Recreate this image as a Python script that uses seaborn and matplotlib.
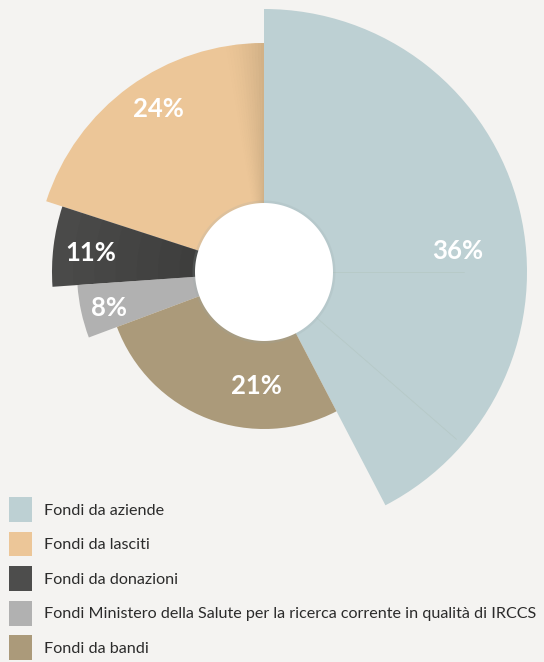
import numpy as np
import matplotlib
matplotlib.use('Agg')
import matplotlib.pyplot as plt
import seaborn as sns
from matplotlib.patches import Patch

# dati
categorie = ['Fondi da aziende', 'Fondi da lasciti', 'Fondi da donazioni',
             'Fondi Ministero della Salute per la ricerca corrente in qualità di IRCCS',
             'Fondi da bandi']
percentuali = [36, 24, 11, 8, 21]
ampiezza_gradi = [152.5, 72, 22, 16.5, 97]   # ampiezza angolare di ogni spicchio
raggio = [263, 229, 212, 187, 157]           # lunghezza di ogni spicchio

colori = ['#bdd0d3', '#ecc698', '#4d4d4c', '#b1b1b1', '#ab9a7a']
# posizione etichette: (scarto angolare dal centro dello spicchio, frazione del raggio)
pos_etichette = [(-7.5, 0.74), (-3, 0.85), (0.7, 0.82), (0.7, 0.85), (17, 0.73)]

sns.set_style('white')
plt.rcParams['font.family'] = ['Lato', 'DejaVu Sans']

fig = plt.figure(figsize=(5.44, 6.62), dpi=100, facecolor='#f4f3f1')
R = 272
cx, cy = 264, 272
ax = fig.add_axes([(cx - R) / 544, (662 - cy - R) / 662, 2 * R / 544, 2 * R / 662],
                  projection='polar')
ax.set_facecolor('none')
ax.set_theta_zero_location('N')
ax.set_theta_direction(1)
ax.set_ylim(0, R)
ax.axis('off')

larg = np.deg2rad(ampiezza_gradi)
inizio = np.concatenate([[-larg[0]], -larg[0] + np.cumsum(larg)[:-1]])
centri = inizio + larg / 2

ax.bar(centri, raggio, width=larg, bottom=0, color=colori, edgecolor='none',
       align='center', zorder=2)

# sottili linee interne nello spicchio delle aziende
for ang, lung in [(-90, 200), (-131, 255)]:
    ax.plot([np.deg2rad(ang)] * 2, [60, lung], color='#b6c9c7', lw=0.6, zorder=3)

# ombreggiatura sul bordo dei lasciti
n = 12
for i in range(n):
    t0 = np.deg2rad(i * 0.8)
    ax.bar(t0 + np.deg2rad(0.4), raggio[1], width=np.deg2rad(0.8), bottom=0,
           color='#b39872', alpha=0.45 * (1 - i / n) ** 1.5, edgecolor='none', zorder=3)

# sfumatura delle donazioni
for i in range(10):
    ax.bar(centri[2], raggio[2] * (1 - i / 10), width=larg[2], bottom=0,
           color='#2e2e2e', alpha=0.07, edgecolor='none', zorder=3)

# foro centrale con leggera ombra
th = np.linspace(0, 2 * np.pi, 200)
ax.fill(th, np.full_like(th, 71.5), color='#9aa9aa', alpha=0.18, zorder=4, lw=0)
ax.fill(th, np.full_like(th, 69), color='white', zorder=5, lw=0)

for c, w, r, p, (dt, fr) in zip(centri, larg, raggio, percentuali, pos_etichette):
    ax.text(c + np.deg2rad(dt), r * fr, f'{p}%', color='white', fontsize=18.5,
            fontweight='bold', ha='center', va='center', zorder=6)

maniglie = [Patch(facecolor=col, edgecolor='none') for col in colori]
fig.legend(maniglie, categorie, loc='upper left', bbox_to_anchor=(9 / 544, 1 - 497 / 662),
           frameon=False, fontsize=11.6, handlelength=1.4, handleheight=2.0,
           labelspacing=0.6, handletextpad=0.78, borderpad=0, borderaxespad=0,
           labelcolor='#2b2b2b')

fig.savefig('out.png', dpi=100, facecolor=fig.get_facecolor())
